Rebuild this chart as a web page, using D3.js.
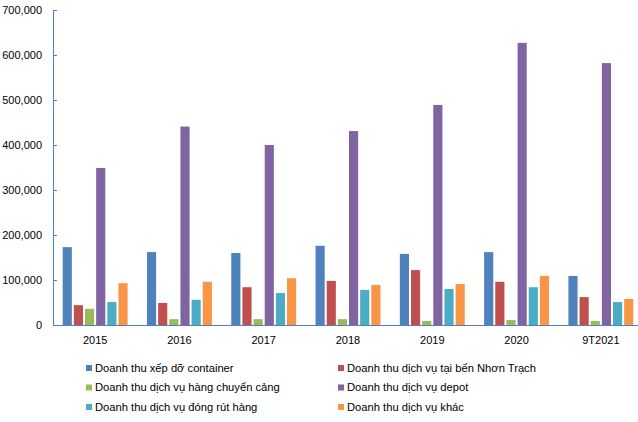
<!DOCTYPE html>
<html>
<head>
<meta charset="utf-8">
<script src="https://cdn.jsdelivr.net/npm/d3@7"></script>
<style>
  body { margin: 0; background: #fff; }
  text { font-family: "Liberation Sans", Arial, sans-serif; fill: #000; }
</style>
</head>
<body>
<svg id="chart" width="638" height="422"></svg>
<script>
const categories = ["2015", "2016", "2017", "2018", "2019", "2020", "9T2021"];
const seriesNames = [
  "Doanh thu xếp dỡ container",
  "Doanh thu dịch vụ tại bến Nhơn Trạch",
  "Doanh thu dịch vụ hàng chuyển cảng",
  "Doanh thu dịch vụ depot",
  "Doanh thu dịch vụ đóng rút hàng",
  "Doanh thu dịch vụ khác"
];
const xepDo     = [173000, 162000, 160000, 176000, 158000, 162000, 109000];
const nhonTrach = [44000, 49000, 84000, 98000, 122000, 96000, 62000];
const chuyenCang = [36000, 13000, 13000, 13000, 9000, 11000, 9000];
const depot     = [349000, 441000, 400000, 431000, 489000, 627000, 582000];
const dongRut   = [51000, 56000, 71000, 78000, 80000, 84000, 51000];
const khac      = [93000, 96000, 104000, 89000, 91000, 109000, 58000];
const yTicks = [0, 100000, 200000, 300000, 400000, 500000, 600000, 700000];

const seriesValues = [xepDo, nhonTrach, chuyenCang, depot, dongRut, khac];
const colors = ["#4F81BD", "#C0504D", "#9BBB59", "#8064A2", "#4BACC6", "#F79646"];
const axisColor = "#4F81BD";

const svg = d3.select("#chart");
const plotLeft = 53, plotBottom = 325, plotTop = 10;

const x0 = d3.scaleBand(categories, [plotLeft, 643]).paddingInner(0.23).paddingOuter(0.115);
const x1 = d3.scaleBand(d3.range(seriesNames.length), [0, x0.bandwidth()]).paddingInner(0.18);
const y = d3.scaleLinear([0, 700000], [plotBottom, plotTop]);

// bars
const groups = svg.append("g").selectAll("g")
  .data(categories)
  .join("g")
  .attr("transform", d => `translate(${x0(d)},0)`);

groups.selectAll("rect")
  .data((c, i) => seriesValues.map((vals, s) => ({ s, v: vals[i] })))
  .join("rect")
  .attr("x", d => x1(d.s))
  .attr("width", x1.bandwidth())
  .attr("y", d => y(d.v))
  .attr("height", d => plotBottom - y(d.v))
  .attr("fill", d => colors[d.s]);

// y axis
const yAxis = svg.append("g")
  .attr("transform", `translate(${plotLeft},0)`)
  .call(d3.axisRight(y).tickValues(yTicks).tickSize(4).tickFormat(""));
yAxis.selectAll("line, path").attr("stroke", axisColor);
yAxis.select(".domain").attr("d", `M0.5,${plotTop}V${plotBottom}`);

svg.append("g").selectAll("text")
  .data(yTicks)
  .join("text")
  .attr("x", 42)
  .attr("y", d => y(d))
  .attr("dy", "0.35em")
  .attr("text-anchor", "end")
  .attr("font-size", 11)
  .text(d => d3.format(",")(d));

// x axis
svg.append("line")
  .attr("x1", plotLeft).attr("x2", 638)
  .attr("y1", plotBottom + 0.5).attr("y2", plotBottom + 0.5)
  .attr("stroke", axisColor).attr("stroke-width", 1.2);

svg.append("g").selectAll("text")
  .data(categories)
  .join("text")
  .attr("x", d => x0(d) + x0.bandwidth() / 2)
  .attr("y", 340)
  .attr("dy", "0.35em")
  .attr("text-anchor", "middle")
  .attr("font-size", 11)
  .text(d => d);

// legend
const legend = svg.append("g").selectAll("g")
  .data(seriesNames)
  .join("g")
  .attr("transform", (d, i) => `translate(${i % 2 === 0 ? 86 : 338},${368 + Math.floor(i / 2) * 19.5})`);

legend.append("rect")
  .attr("x", 0).attr("y", -3)
  .attr("width", 6).attr("height", 6)
  .attr("fill", (d, i) => colors[i]);

legend.append("text")
  .attr("x", 9)
  .attr("dy", "0.35em")
  .attr("font-size", 11.2)
  .text(d => d);
</script>
</body>
</html>
